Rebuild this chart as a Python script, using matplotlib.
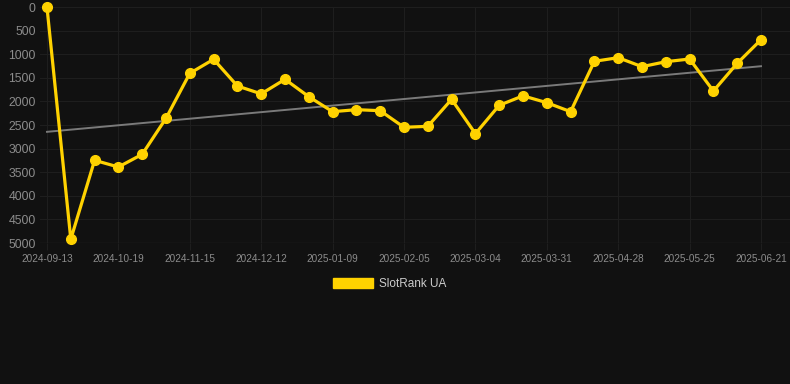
import numpy as np
import matplotlib
matplotlib.use("Agg")
import matplotlib.pyplot as plt
from matplotlib.patches import Patch

# rank values, one per week-ish sample (lower is better, axis inverted)
ranks = [10, 4920, 3248, 3390, 3121, 2358, 1405, 1108, 1674, 1840,
         1532, 1900, 2218, 2175, 2197, 2549, 2528, 1956, 2684, 2083,
         1882, 2027, 2218, 1150, 1074, 1264, 1159, 1102, 1780, 1193, 693]
tick_labels = ['2024-09-13', '2024-10-19', '2024-11-15', '2024-12-12',
               '2025-01-09', '2025-02-05', '2025-03-04', '2025-03-31',
               '2025-04-28', '2025-05-25', '2025-06-21']
series_name = 'SlotRank UA'

bg = '#111111'
grid_c = '#1e1e1e'
text_c = '#8c8c8c'
gold = '#FFD200'

plt.rcParams['font.family'] = ['Liberation Sans', 'DejaVu Sans']

fig = plt.figure(figsize=(7.9, 3.84), dpi=100, facecolor=bg)
ax = fig.add_axes([40/790, 1 - 243/384, 750/790, 236/384])
ax.set_facecolor(bg)

x = np.arange(len(ranks))
y = np.array(ranks, dtype=float)

# linear trend
k, b = np.polyfit(x, y, 1)
ax.plot(x, k*x + b, color='#7a7a7a', linewidth=1.4, zorder=2)

ax.plot(x, y, color=gold, linewidth=2.3, marker='o', markersize=7,
        clip_on=False, zorder=3)

px = (761 - 47) / 30
ax.set_xlim(-7/px, 30 + 29/px)
ax.set_ylim(5000, 0)

ax.set_xticks(x[::3])
ax.set_xticklabels(tick_labels, fontsize=7.2, color=text_c)
ax.set_yticks(np.arange(0, 5001, 500))
ax.set_yticklabels([str(v) for v in range(0, 5001, 500)], fontsize=8.8, color=text_c)

ax.tick_params(axis='x', length=5, color=grid_c, pad=3)
ax.tick_params(axis='y', length=0, pad=3)
ax.grid(True, color=grid_c, linewidth=0.8)
ax.set_axisbelow(True)
for s in ax.spines.values():
    s.set_visible(False)
ax.axhline(5000, color='#2a2a2a', linewidth=0.9, zorder=1)

handle = Patch(facecolor=gold, edgecolor=gold)
fig.legend([handle], [series_name], loc='center', bbox_to_anchor=(390/790, 1 - 284/384),
           frameon=False, fontsize=8.5, labelcolor='#cccccc',
           handlelength=3.4, handleheight=0.95, handletextpad=0.5)

fig.savefig('out.png', dpi=100, facecolor=bg)
